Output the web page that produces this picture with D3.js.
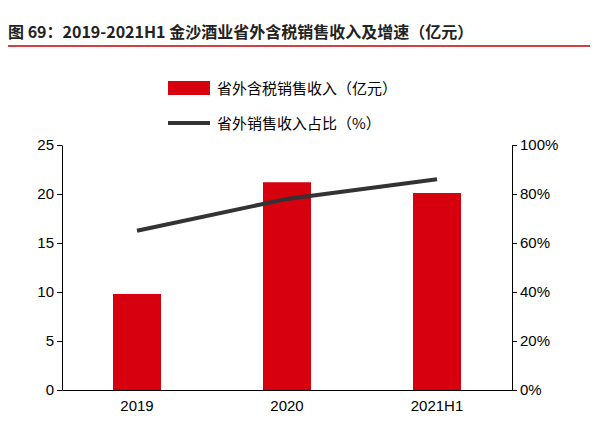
<!DOCTYPE html>
<html><head><meta charset="utf-8">
<script src="https://cdn.jsdelivr.net/npm/d3@7"></script>
<style>body{margin:0;background:#fff;font-family:"Noto Sans CJK SC",Arial,sans-serif}</style>
</head><body><div id="content"></div>
<script>
var categories = ["2019", "2020", "2021H1"];
var revenue = [9.8, 21.2, 20.1];
var share = [65, 78, 86];
var leftTicks = [0, 5, 10, 15, 20, 25];
var rightTicks = [0, 20, 40, 60, 80, 100];

var width = 598, height = 428;
var plotLeft = 62, plotRight = 512, plotTop = 145, plotBottom = 390;

var svg = d3.select("#content").append("svg")
    .attr("width", width).attr("height", height);

// title
svg.append("text").attr("x", 8).attr("y", 38)
    .attr("font-size", 16).attr("font-weight", "bold").attr("fill", "#222")
    .text("图 69：2019-2021H1 金沙酒业省外含税销售收入及增速（亿元）");
svg.append("line").attr("x1", 8).attr("x2", 590).attr("y1", 46).attr("y2", 46)
    .attr("stroke", "#c00000").attr("stroke-width", 1.5);

var x = d3.scaleBand().domain(categories).range([plotLeft, plotRight]);
var y = d3.scaleLinear().domain([0, 25]).range([plotBottom, plotTop]);
var y2 = d3.scaleLinear().domain([0, 100]).range([plotBottom, plotTop]);

svg.selectAll("rect.bar").data(revenue).enter().append("rect")
    .attr("class", "bar")
    .attr("x", (d, i) => x(categories[i]) + x.bandwidth() / 2 - 24)
    .attr("width", 48)
    .attr("y", d => y(d))
    .attr("height", d => plotBottom - y(d))
    .attr("fill", "#d7000f");

svg.append("path")
    .datum(share)
    .attr("fill", "none").attr("stroke", "#333").attr("stroke-width", 4)
    .attr("d", d3.line().x((d, i) => x(categories[i]) + x.bandwidth() / 2).y(d => y2(d)));

var ax = svg.append("g").attr("transform", "translate(0," + plotBottom + ")")
    .call(d3.axisBottom(x).tickSize(0).tickSizeOuter(0));
ax.selectAll("text").attr("font-size", 15).attr("fill", "#000").attr("dy", "1.2em")
    .attr("font-family", "Arial, Liberation Sans");
ax.select(".domain").attr("stroke", "#000");

var ay = svg.append("g").attr("transform", "translate(" + plotLeft + ",0)")
    .call(d3.axisLeft(y).tickValues(leftTicks).tickSize(5).tickSizeOuter(0));
ay.selectAll("text").attr("font-size", 15).attr("fill", "#000").attr("font-family", "Arial, Liberation Sans");

var ay2 = svg.append("g").attr("transform", "translate(" + plotRight + ",0)")
    .call(d3.axisRight(y2).tickValues(rightTicks).tickFormat(d => d + "%").tickSize(5).tickSizeOuter(0));
ay2.selectAll("text").attr("font-size", 15).attr("fill", "#000").attr("font-family", "Arial, Liberation Sans");

// legend
svg.append("rect").attr("x", 168).attr("y", 81).attr("width", 42).attr("height", 14).attr("fill", "#d7000f");
svg.append("text").attr("x", 217).attr("y", 94).attr("font-size", 15).text("省外含税销售收入（亿元）");
svg.append("line").attr("x1", 168).attr("x2", 210).attr("y1", 123).attr("y2", 123)
    .attr("stroke", "#333").attr("stroke-width", 4);
svg.append("text").attr("x", 217).attr("y", 129).attr("font-size", 15).text("省外销售收入占比（%）");
</script></body></html>
